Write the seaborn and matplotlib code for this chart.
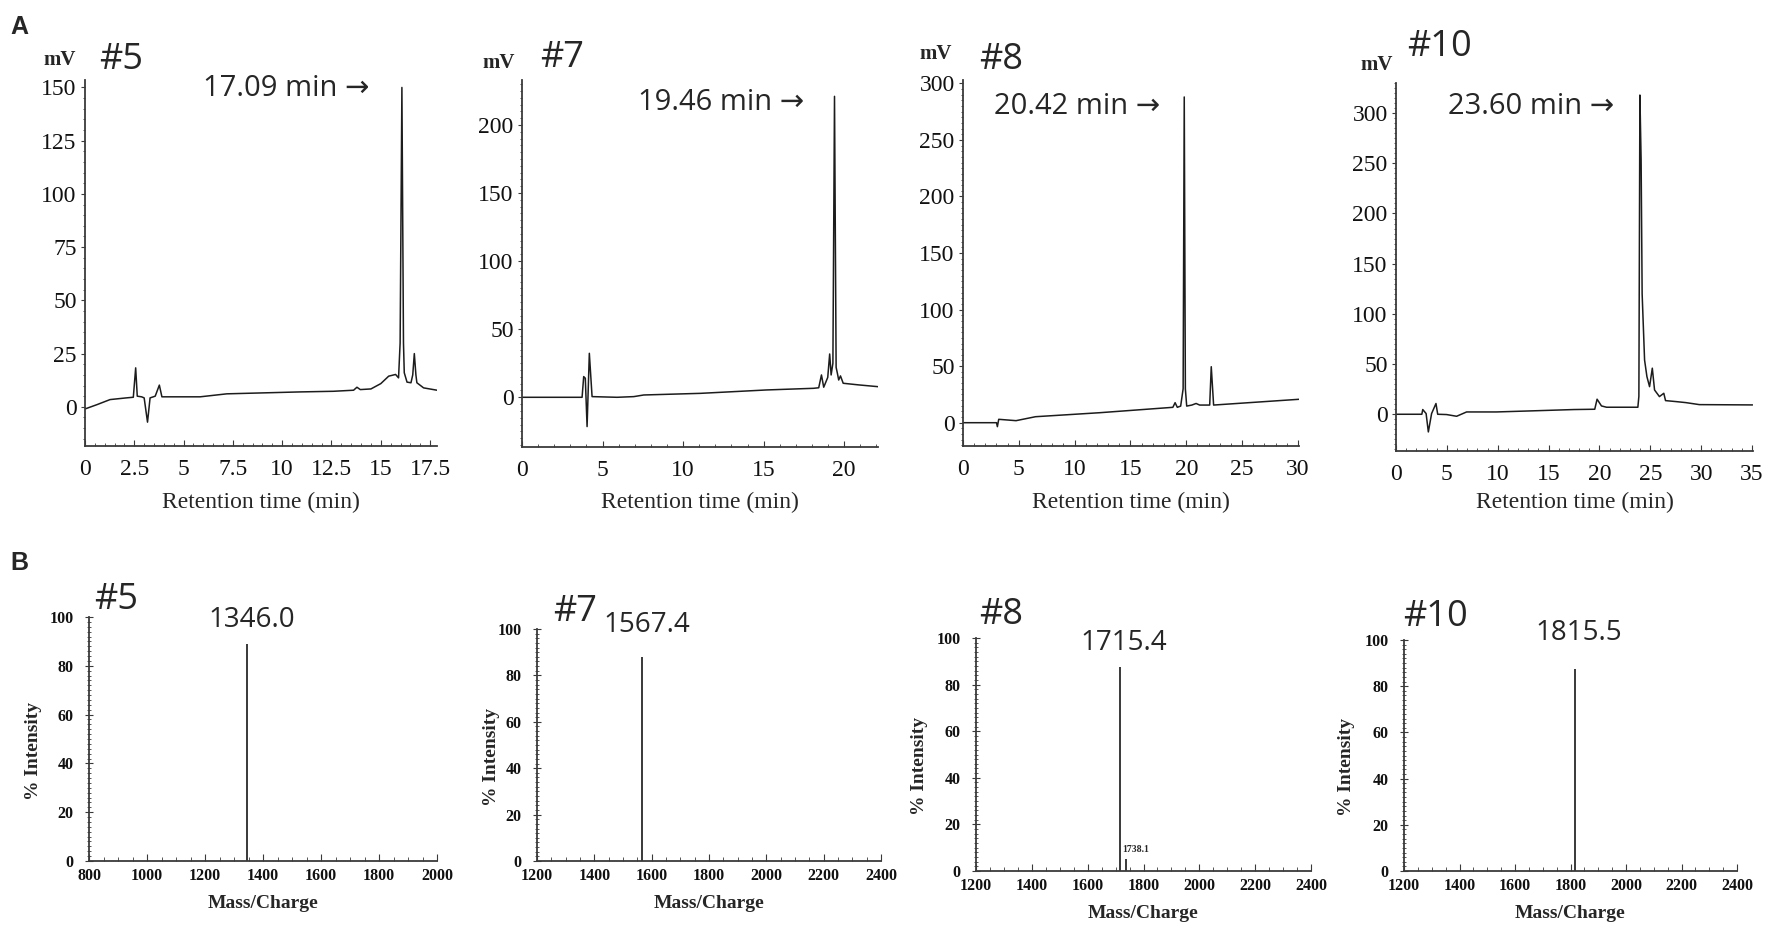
import matplotlib
matplotlib.use('Agg')
import matplotlib.pyplot as plt
from matplotlib import ticker
import pandas as pd
import seaborn as sns

# HPLC traces (retention time in min, signal in mV)
t5 = [0, 0.6, 1.27, 2.1, 2.45, 2.57, 2.65, 2.87, 3.0, 3.17, 3.3, 3.56, 3.77, 3.9, 5.84, 7.19, 10.9, 12.6,
      13.62, 13.79, 13.96, 14.5, 15.0, 15.4, 15.75, 15.9, 15.98, 16.07, 16.15, 16.19, 16.33, 16.53, 16.62,
      16.7, 16.78, 16.83, 17.17, 17.85]
mv5 = [-1, 1, 3.4, 4.2, 4.5, 18.3, 5, 4.7, 4.2, -7.2, 4.2, 5, 10.2, 4.7, 4.7, 6.1, 7, 7.3,
       7.8, 9.2, 8.1, 8.4, 10.9, 14.4, 15.2, 13.6, 30, 150, 30, 16, 11.6, 11.3, 15,
       25, 15, 11.3, 8.9, 7.8]

t7 = [0, 3.73, 3.83, 3.93, 4.04, 4.18, 4.35, 5.9, 6.94, 7.56, 11.08, 15.2, 18.1, 18.42, 18.59, 18.73,
      18.98, 19.1, 19.19, 19.3, 19.4, 19.5, 19.58, 19.66, 19.77, 19.94, 20.9, 22.1]
mv7 = [0, 0, 15.2, 14, -21.5, 32.3, 0.5, 0, 0.5, 1.7, 2.9, 5.4, 6.6, 7, 16.4, 7.4,
       14.6, 31.8, 16.4, 25, 221, 22, 17.6, 12.7, 15.7, 10.3, 9.1, 7.8]

t8 = [0, 3.0, 3.08, 3.2, 4.75, 6.5, 12.2, 18.8, 19.0, 19.2, 19.5, 19.72, 19.82, 19.92, 20.04, 20.5,
      20.88, 21.2, 22.1, 22.24, 22.45, 30.1]
mv8 = [0, 0, -3.5, 3, 1.8, 5.3, 8.8, 13.6, 17.7, 13.6, 14.7, 30, 288, 30, 14.7, 15.6,
       17, 15.6, 15.6, 49.5, 15.6, 20.7]

t10 = [0, 2.54, 2.63, 2.96, 3.18, 3.5, 3.93, 4.1, 4.98, 5.96, 6.94, 9.86, 13.1, 17.5, 19.54, 19.77,
       20.2, 20.7, 23.78, 23.88, 23.98, 24.1, 24.2, 24.44, 24.67, 24.93, 25.2, 25.42, 25.9, 26.33,
       26.5, 27.55, 28.5, 29.83, 35.06]
mv10 = [0, 0, 4.7, 0.7, -17.6, 0.7, 10.7, 0, -0.3, -2, 2.3, 2.3, 3.3, 4.7, 5, 15,
        8.3, 7, 7, 17.9, 318, 253, 120, 54, 37.5, 27.5, 45.9, 24.2, 17.6, 20.9,
        13.6, 12.6, 11.6, 9.6, 9.3]

peptides = ['#5', '#7', '#8', '#10']
rt_labels = ['17.09 min \u2192', '19.46 min \u2192', '20.42 min \u2192', '23.60 min \u2192']

# MS peaks (m/z, % intensity)
mz5, int5 = [1346.0], [89]
mz7, int7 = [1567.4], [88]
mz8, int8 = [1715.4, 1738.1], [87.5, 5]
mz10, int10 = [1815.5], [87.5]
ms_labels = ['1346.0', '1567.4', '1715.4', '1815.5']

# axis ticks
xt_a = [[0, 2.5, 5, 7.5, 10, 12.5, 15, 17.5], [0, 5, 10, 15, 20], [0, 5, 10, 15, 20, 25, 30],
        [0, 5, 10, 15, 20, 25, 30, 35]]
yt_a = [[0, 25, 50, 75, 100, 125, 150], [0, 50, 100, 150, 200], [0, 50, 100, 150, 200, 250, 300],
        [0, 50, 100, 150, 200, 250, 300]]
xt_b = [[800, 1000, 1200, 1400, 1600, 1800, 2000]] + [[1200, 1400, 1600, 1800, 2000, 2200, 2400]] * 3
yt_b = [0, 20, 40, 60, 80, 100]

W, H = 1775, 933


def rect(l, t, r, b):
    return [l / W, 1 - b / H, (r - l) / W, (b - t) / H]


def fx(x):
    return x / W


def fy(y):
    return 1 - y / H


sns.set_style('ticks')
plt.rcParams['font.family'] = ['Liberation Serif', 'DejaVu Serif']
SANS = ['Open Sans', 'DejaVu Sans']
LINE = '#1c1c1c'
SPINE = '#3a3a3a'

fig = plt.figure(figsize=(W / 100, H / 100), dpi=100)

# ---- row A: chromatograms
traces = [(t5, mv5), (t7, mv7), (t8, mv8), (t10, mv10)]
a_boxes = [(85, 80, 437, 446), (522, 80, 878, 447), (963, 80, 1299, 446), (1396, 83, 1753, 451)]
a_xlim = [(0, 17.85), (0, 22.1), (0, 30.1), (0, 35.1)]
a_ylim = [(-18.4, 153.5), (-36.5, 233), (-20.6, 303), (-36.6, 330)]
a_xminor = [0.5, 1, 1, 1]
a_yminor = [5, 5, 5, 5]
mv_pos = [(60, 60), (499, 63), (936, 54), (1377, 65)]
id_pos = [(121, 60), (562, 58), (1001, 60), (1439, 47)]
rt_pos = [(203, 89), (638, 103), (994, 106), (1448, 107)]

for i, (t, mv) in enumerate(traces):
    ax = fig.add_axes(rect(*a_boxes[i]))
    df = pd.DataFrame({'t': t, 'mv': mv})
    sns.lineplot(data=df, x='t', y='mv', ax=ax, color=LINE, lw=1.1, estimator=None, sort=False)
    ax.set_xlim(a_xlim[i])
    ax.set_ylim(a_ylim[i])
    ax.set_xticks(xt_a[i])
    ax.set_yticks(yt_a[i])
    ax.xaxis.set_minor_locator(ticker.MultipleLocator(a_xminor[i]))
    ax.yaxis.set_minor_locator(ticker.MultipleLocator(a_yminor[i]))
    ax.xaxis.set_major_formatter(ticker.FormatStrFormatter('%g'))
    ax.tick_params(labelsize=17, colors='#111')
    ax.tick_params(axis='x', which='major', direction='in', length=4, pad=9, color=SPINE)
    ax.tick_params(axis='x', which='minor', direction='in', length=2.5, color=SPINE)
    ax.tick_params(axis='y', which='major', direction='out', length=3, pad=3, color=SPINE)
    ax.tick_params(axis='y', which='minor', direction='out', length=1.5, color=SPINE)
    ax.set_xlabel('')
    ax.set_ylabel('')
    sns.despine(ax=ax)
    for s in ['left', 'bottom']:
        ax.spines[s].set_color(SPINE)
        ax.spines[s].set_linewidth(1.3)
    l, tp, r, b = a_boxes[i]
    fig.text(fx((l + r) / 2), fy(502), 'Retention time (min)', fontsize=17, ha='center', va='center')
    fig.text(fx(mv_pos[i][0]), fy(mv_pos[i][1]), 'mV', fontsize=15, fontweight='bold', ha='center', va='center')
    fig.text(fx(id_pos[i][0]), fy(id_pos[i][1]), peptides[i], fontsize=26, family=SANS, ha='center', va='center')
    fig.text(fx(rt_pos[i][0]), fy(rt_pos[i][1]), rt_labels[i], fontsize=21, family=SANS, ha='left', va='center')

fig.text(fx(10), fy(27), 'A', fontsize=18, fontweight='bold', family=['Liberation Sans', 'DejaVu Sans'],
         ha='left', va='center')

# ---- row B: mass spectra
spectra = [(mz5, int5), (mz7, int7), (mz8, int8), (mz10, int10)]
b_boxes = [(89, 617, 437, 861), (537, 629, 881, 861), (976, 638, 1311, 871), (1404, 640, 1737, 871)]
b_xlim = [(800, 2000), (1200, 2400), (1200, 2400), (1200, 2400)]
bid_pos = [(116, 600), (575, 612), (1001, 615), (1436, 617)]
lab_y = [620, 625, 643, 633]
ylab_x = [42, 500, 928, 1355]

for i, (mz, inten) in enumerate(spectra):
    ax = fig.add_axes(rect(*b_boxes[i]))
    ax.vlines(mz, 0, inten, color='#2a2a2a', lw=1.3)
    ax.set_xlim(b_xlim[i])
    ax.set_ylim(0, 100)
    ax.set_xticks(xt_b[i])
    ax.set_yticks(yt_b)
    ax.xaxis.set_minor_locator(ticker.MultipleLocator(50))
    ax.yaxis.set_minor_locator(ticker.MultipleLocator(2))
    ax.tick_params(labelsize=11.5, colors='#111')
    for lab in ax.get_xticklabels() + ax.get_yticklabels():
        lab.set_fontweight('bold')
    ax.tick_params(axis='x', which='major', direction='in', length=5, pad=5, color=SPINE)
    ax.tick_params(axis='x', which='minor', direction='in', length=3, color=SPINE)
    ax.tick_params(axis='y', which='major', direction='inout', length=6, pad=8, color=SPINE)
    ax.tick_params(axis='y', which='minor', direction='inout', length=3, color=SPINE)
    sns.despine(ax=ax)
    for s in ['left', 'bottom']:
        ax.spines[s].set_color(SPINE)
        ax.spines[s].set_linewidth(1.3)
    l, tp, r, b = b_boxes[i]
    ax.set_xlabel('Mass/Charge', fontsize=14, fontweight='bold')
    ax.xaxis.set_label_coords(0.5, -34 / (b - tp))
    ax.set_ylabel('% Intensity', fontsize=14, fontweight='bold')
    ax.yaxis.set_label_coords((ylab_x[i] - l) / (r - l), 0.45)
    peak_x = l + (mz[0] - b_xlim[i][0]) / (b_xlim[i][1] - b_xlim[i][0]) * (r - l)
    fig.text(fx(peak_x + 4), fy(lab_y[i]), ms_labels[i], fontsize=20, family=SANS, ha='center', va='center')
    fig.text(fx(bid_pos[i][0]), fy(bid_pos[i][1]), peptides[i], fontsize=26, family=SANS, ha='center',
             va='center')
    if len(mz) > 1:
        ax.annotate(f'{mz[1]:.1f}', (mz[1], inten[1]), xytext=(-3, 4), textcoords='offset points',
                    fontsize=7, fontweight='bold', ha='left', va='bottom')

fig.text(fx(10), fy(563), 'B', fontsize=18, fontweight='bold', family=['Liberation Sans', 'DejaVu Sans'],
         ha='left', va='center')

fig.savefig('out.png', dpi=100, facecolor='white')
